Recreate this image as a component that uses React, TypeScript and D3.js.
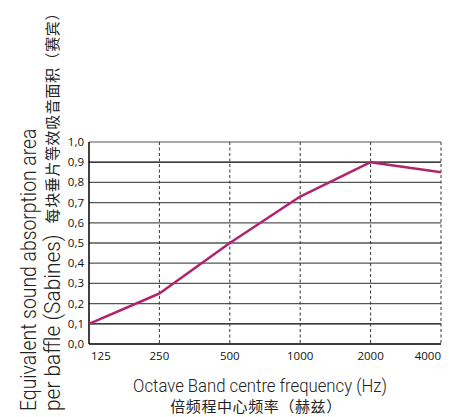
import React from "react";
import * as d3 from "d3";

const frequencies = ["125", "250", "500", "1000", "2000", "4000"];
const absorption = [0.1, 0.25, 0.5, 0.73, 0.9, 0.85];
const yTicks = [0, 0.1, 0.2, 0.3, 0.4, 0.5, 0.6, 0.7, 0.8, 0.9, 1.0];
const darkGrid = [0.1, 0.5, 0.9];

const xTitle = "Octave Band centre frequency (Hz)";
const xTitleCn = "倍频程中心频率（赫兹）";
const yTitle1 = "Equivalent sound absorption area";
const yTitle2 = "per baffle (Sabines)";
const yTitleCn = "每块垂片等效吸音面积（赛宾）";

const W = 450;
const H = 417;
const left = 89;
const right = 441;
const top = 142;
const bottom = 344;

const latin = "'Roboto', 'DejaVu Sans Condensed', sans-serif";
const cjk = "'Noto Sans CJK SC', sans-serif";

export default function App() {
  const x = d3.scalePoint<string>().domain(frequencies).range([left, right]);
  const y = d3.scaleLinear().domain([0, 1]).range([bottom, top]);
  const line = d3
    .line<number>()
    .x((_, i) => x(frequencies[i]) as number)
    .y((d) => y(d));

  return (
    <svg
      width={W}
      height={H}
      style={{ position: "absolute", left: 0, top: 0, background: "#fff" }}
    >
      {yTicks.map((t) => (
        <line
          key={"h" + t}
          x1={left}
          x2={right}
          y1={y(t)}
          y2={y(t)}
          stroke={t === 0 ? "#000" : darkGrid.includes(t) ? "#000" : "#555"}
          strokeWidth={t === 0 ? 1.5 : 1.2}
        />
      ))}
      {frequencies.slice(1).map((f) => (
        <line
          key={"v" + f}
          x1={x(f)}
          x2={x(f)}
          y1={top}
          y2={bottom}
          stroke="#333"
          strokeWidth={1}
          strokeDasharray="3,2.5"
        />
      ))}
      <line x1={left} x2={left} y1={top} y2={bottom} stroke="#000" strokeWidth={1.5} />
      <path d={line(absorption) || ""} fill="none" stroke="#b0246e" strokeWidth={2.5} strokeLinejoin="round" />
      {yTicks.map((t) => (
        <text
          key={"yt" + t}
          x={84}
          y={y(t) + 4}
          textAnchor="end"
          fontFamily="'Open Sans', sans-serif"
          fontSize={11.5}
          fill="#111"
        >
          {t.toFixed(1).replace(".", ",")}
        </text>
      ))}
      {frequencies.map((f, i) => (
        <text
          key={"xt" + f}
          x={i === 0 ? (x(f) as number) + 2 : (x(f) as number)}
          y={360}
          textAnchor={i === 0 ? "start" : i === frequencies.length - 1 ? "end" : "middle"}
          fontFamily="'Open Sans', sans-serif"
          fontSize={11.5}
          fill="#111"
        >
          {f}
        </text>
      ))}
      <text
        transform="translate(260,392) scale(0.88,1)"
        textAnchor="middle"
        fontFamily={latin}
        fontWeight={300}
        fontSize={19}
        fill="#222"
      >
        {xTitle}
      </text>
      <text x={256} y={412} textAnchor="middle" fontFamily={cjk} fontSize={15} fill="#222" letterSpacing={0.6}>
        {xTitleCn}
      </text>
      <text
        transform="translate(36,411) rotate(-90) scale(0.88,1)"
        textAnchor="start"
        fontFamily={latin}
        fontWeight={300}
        fontSize={22}
        fill="#222"
      >
        {yTitle1}
      </text>
      <text
        transform="translate(60,411) rotate(-90) scale(0.95,1)"
        textAnchor="start"
        fontFamily={latin}
        fontWeight={300}
        fontSize={22}
        fill="#222"
      >
        {yTitle2}
      </text>
      <text
        transform="translate(58,5) rotate(-90)"
        textAnchor="end"
        fontFamily={cjk}
        fontSize={15}
        letterSpacing={0.6}
        fill="#222"
      >
        {yTitleCn}
      </text>
    </svg>
  );
}
